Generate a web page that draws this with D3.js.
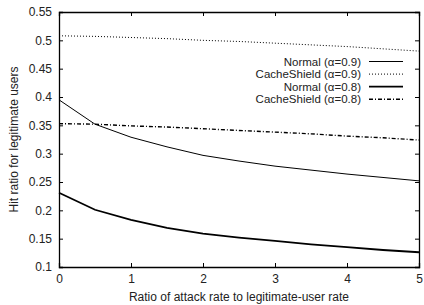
<!DOCTYPE html>
<html>
<head>
<meta charset="utf-8">
<script src="https://cdn.jsdelivr.net/npm/d3@7"></script>
<style>
  body { margin: 0; background: #fff; }
  svg { font-family: "Liberation Sans", Arial, sans-serif; }
</style>
</head>
<body>
<div class="visContainer"></div>
<script>
// Data.
const xValues = [0, 0.5, 1, 1.5, 2, 2.5, 3, 3.5, 4, 4.5, 5];
const normal09 = [0.395, 0.352, 0.329, 0.312, 0.297, 0.287, 0.278, 0.271, 0.264, 0.258, 0.252];
const shield09 = [0.508, 0.507, 0.505, 0.503, 0.500, 0.498, 0.495, 0.492, 0.489, 0.485, 0.481];
const normal08 = [0.231, 0.201, 0.183, 0.169, 0.159, 0.152, 0.146, 0.140, 0.135, 0.130, 0.126];
const shield08 = [0.353, 0.352, 0.349, 0.347, 0.344, 0.341, 0.338, 0.335, 0.331, 0.328, 0.324];
const seriesNames = ['Normal (\u03b1=0.9)', 'CacheShield (\u03b1=0.9)', 'Normal (\u03b1=0.8)', 'CacheShield (\u03b1=0.8)'];
const xTicks = [0, 1, 2, 3, 4, 5];
const yTicks = [0.1, 0.15, 0.2, 0.25, 0.3, 0.35, 0.4, 0.45, 0.5, 0.55];

// SVG constants.
const width = 424;
const height = 305;
const margin = { top: 12, right: 5, bottom: 38, left: 59 };
const fontSize = 12;

const series = [
    { name: seriesNames[0], values: normal09, width: 1, dash: null },
    { name: seriesNames[1], values: shield09, width: 1, dash: '1,2' },
    { name: seriesNames[2], values: normal08, width: 1.8, dash: null },
    { name: seriesNames[3], values: shield08, width: 1.4, dash: '4,2,1,2' }
];

const svg = d3.select('.visContainer')
              .append('svg')
              .attr('width', width)
              .attr('height', height);

const x = d3.scaleLinear()
            .domain([0, 5])
            .range([margin.left, width - margin.right]);

const y = d3.scaleLinear()
            .domain([0.1, 0.55])
            .range([height - margin.bottom, margin.top]);

// Axes with inward ticks on all four sides.
const fmt = (d) => d3.format('')(+d.toFixed(2));

svg.append('g')
   .attr('transform', 'translate(0,' + (height - margin.bottom) + ')')
   .call(d3.axisBottom(x).tickValues(xTicks).tickSize(-4).tickPadding(7).tickFormat(fmt));

svg.append('g')
   .attr('transform', 'translate(0,' + margin.top + ')')
   .call(d3.axisTop(x).tickValues(xTicks).tickSize(-4).tickFormat(''));

svg.append('g')
   .attr('transform', 'translate(' + margin.left + ',0)')
   .call(d3.axisLeft(y).tickValues(yTicks).tickSize(-4).tickPadding(7).tickFormat(fmt));

svg.append('g')
   .attr('transform', 'translate(' + (width - margin.right) + ',0)')
   .call(d3.axisRight(y).tickValues(yTicks).tickSize(-4).tickFormat(''));

svg.selectAll('.domain').attr('stroke', '#000').attr('stroke-width', 1.3);
svg.selectAll('.tick line').attr('stroke', '#000');
svg.selectAll('.tick text').attr('font-size', fontSize).attr('fill', '#222')
   .attr('font-family', '"Liberation Sans", Arial, sans-serif');

// Axis titles.
svg.append('text')
   .attr('x', (margin.left + width - margin.right) / 2)
   .attr('y', 301)
   .attr('text-anchor', 'middle')
   .attr('font-size', fontSize)
   .attr('fill', '#222')
   .text('Ratio of attack rate to legitimate-user rate');

svg.append('text')
   .attr('transform', 'translate(18,' + ((margin.top + height - margin.bottom) / 2) + ') rotate(-90)')
   .attr('text-anchor', 'middle')
   .attr('font-size', fontSize)
   .attr('fill', '#222')
   .text('Hit ratio for legitimate users');

// Lines.
const line = d3.line()
               .x((d, i) => x(xValues[i]))
               .y((d) => y(d));

svg.selectAll('.series')
   .data(series)
   .enter()
   .append('path')
   .attr('class', 'series')
   .attr('d', (d) => line(d.values))
   .attr('fill', 'none')
   .attr('stroke', '#000')
   .attr('stroke-width', (d) => d.width)
   .attr('stroke-dasharray', (d) => d.dash);

// Legend.
const legend = svg.append('g');
series.forEach((s, i) => {
    const ly = 61.5 + i * 12.6;
    legend.append('text')
          .attr('x', 361)
          .attr('y', ly + 4)
          .attr('text-anchor', 'end')
          .attr('font-size', 11.5)
          .attr('fill', '#222')
          .text(s.name);
    legend.append('line')
          .attr('x1', 369)
          .attr('x2', 403)
          .attr('y1', ly)
          .attr('y2', ly)
          .attr('stroke', '#000')
          .attr('stroke-width', s.width)
          .attr('stroke-dasharray', s.dash);
});
</script>
</body>
</html>
